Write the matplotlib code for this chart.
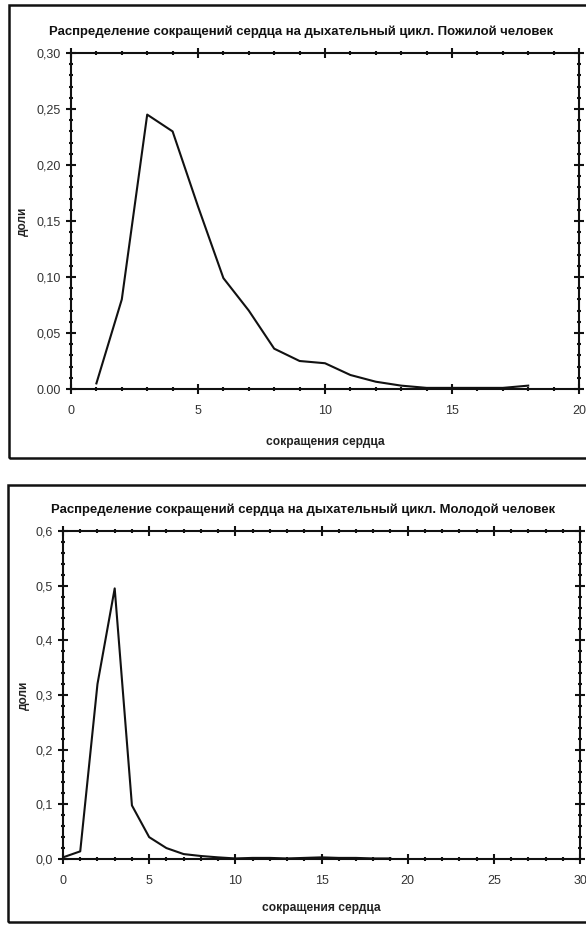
import matplotlib
matplotlib.use('Agg')
import matplotlib.pyplot as plt
from matplotlib.patches import Rectangle
from matplotlib.ticker import MultipleLocator, FixedLocator, FixedFormatter

# Elderly person: share of heart beats per respiratory cycle
old_beats = [1, 2, 3, 4, 5, 6, 7, 8, 9, 10, 11, 12, 13, 14, 15, 16, 17, 18]
old_share = [0.005, 0.08, 0.245, 0.23, 0.163, 0.099, 0.07, 0.036, 0.025, 0.023,
             0.0125, 0.0065, 0.003, 0.001, 0.001, 0.001, 0.001, 0.003]

# Young person
young_beats = [0, 1, 2, 3, 4, 5, 6, 7, 8, 9, 10, 11, 12, 13, 14, 15, 16, 17, 18, 19]
young_share = [0.003, 0.014, 0.32, 0.495, 0.098, 0.04, 0.02, 0.009, 0.0055, 0.003,
               0.001, 0.002, 0.002, 0.001, 0.002, 0.003, 0.002, 0.002, 0.001, 0.001]

old_yticks = [0.0, 0.05, 0.10, 0.15, 0.20, 0.25, 0.30]
old_ylabels = ['0.00', '0,05', '0,10', '0,15', '0,20', '0,25', '0,30']
young_yticks = [0.0, 0.1, 0.2, 0.3, 0.4, 0.5, 0.6]
young_ylabels = ['0,0', '0,1', '0,2', '0,3', '0,4', '0,5', '0,6']

title_old = 'Распределение сокращений сердца на дыхательный цикл. Пожилой человек'
title_young = 'Распределение сокращений сердца на дыхательный цикл. Молодой человек'
xlab = 'сокращения сердца'
ylab = 'доли'

plt.rcParams['font.family'] = ['Liberation Sans', 'DejaVu Sans']

W, H = 586, 927
fig = plt.figure(figsize=(W / 100, H / 100), dpi=100)
renderer = fig.canvas.get_renderer()


def fx(px):
    return px / W


def fy(py):
    return 1 - py / H


def fit_text(x, y, s, width_px, size, **kw):
    # shrink the font until the text spans the width seen in the reference
    t = fig.text(fx(x), fy(y), s, ha='center', va='center', fontsize=size, **kw)
    w = t.get_window_extent(renderer).width
    t.set_fontsize(size * width_px / w)
    return t


def panel(box, frame, xs, ys, xmax, ymax, yminor, yticks, ylabels, title, title_x, title_y,
          xlab_y, ylab_x):
    l, t, r, b = box
    ax = fig.add_axes([fx(l), fy(b), fx(r - l), (b - t) / H])
    ax.plot(xs, ys, color='#111111', lw=1.5)
    ax.set_xlim(0, xmax)
    ax.set_ylim(0, ymax)
    ax.xaxis.set_major_locator(MultipleLocator(5))
    ax.xaxis.set_minor_locator(MultipleLocator(1))
    ax.yaxis.set_major_locator(FixedLocator(yticks))
    ax.yaxis.set_major_formatter(FixedFormatter(ylabels))
    ax.yaxis.set_minor_locator(MultipleLocator(yminor))
    ax.tick_params(which='both', direction='inout', top=True, right=True, color='#111111',
                   labelsize=9)
    ax.tick_params(which='major', length=7, width=1.5)
    ax.tick_params(which='minor', length=3.5, width=1.5)
    ax.tick_params(axis='x', pad=8)
    ax.tick_params(axis='y', pad=4)
    for sp in ax.spines.values():
        sp.set_linewidth(1.5)
        sp.set_color('#111111')
    for lbl in ax.get_xticklabels() + ax.get_yticklabels():
        lbl.set_color('#333333')

    fl, ft, fb = frame
    fig.patches.append(Rectangle((fx(fl), fy(fb)), fx(W + 10 - fl), (fb - ft) / H,
                                 transform=fig.transFigure, fill=False,
                                 edgecolor='#111111', lw=1.8))
    fit_text(title_x, title_y, title, 508, 11, fontweight='bold', color='#111111')
    fit_text((l + r) / 2, xlab_y, xlab, 118, 9, fontweight='bold', color='#222222')
    fig.text(fx(ylab_x), fy((t + b) / 2), ylab, ha='center', va='center', rotation=90,
             fontsize=8.5, fontweight='bold', color='#222222')
    return ax


panel((71, 53, 579, 389), (9, 5, 458), old_beats, old_share, 20, 0.30, 0.01,
      old_yticks, old_ylabels, title_old, 301, 32, 442, 23)
panel((63, 531, 580, 859), (8, 485, 922), young_beats, young_share, 30, 0.6, 0.02,
      young_yticks, young_ylabels, title_young, 303, 510, 908, 24)

fig.savefig('out.png', dpi=100)
